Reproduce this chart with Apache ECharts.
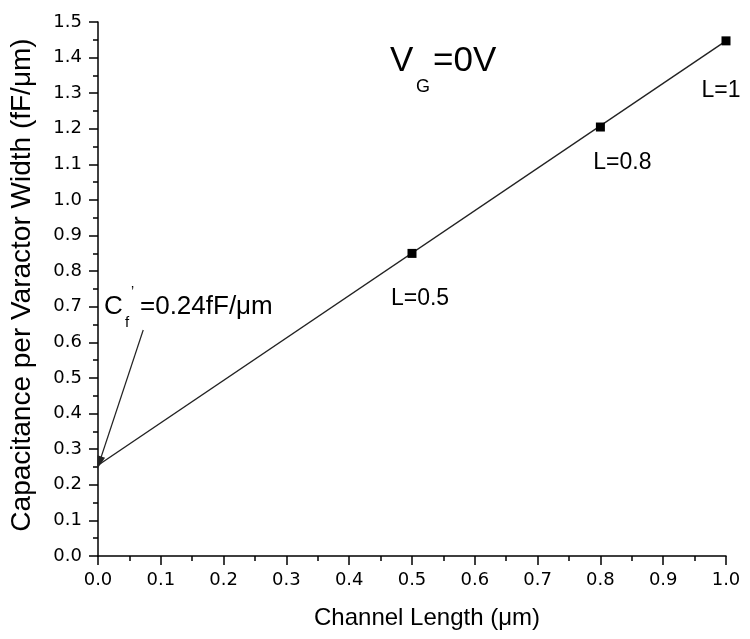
<!DOCTYPE html>
<html>
<head>
<meta charset="utf-8">
<script src="https://cdn.jsdelivr.net/npm/echarts@6/dist/echarts.min.js"></script>
<style>
html,body{margin:0;padding:0;background:#fff;}
#chart{width:750px;height:639px;}
</style>
</head>
<body>
<div id="chart"></div>
<script>
// ---- data ----
const channelLength = [0.5, 0.8, 1.0];
const capacitance = [0.85, 1.205, 1.447];
const pointLabels = ['L=0.5', 'L=0.8', 'L=1'];
const fitX = [0.0, 1.0];
const fitY = [0.255, 1.447];
const arrowFrom = [0.072, 0.635];
const arrowTo = [0.002, 0.262];
const xTitle = 'Channel Length (\u03bcm)';
const yTitle = 'Capacitance per Varactor Width (fF/\u03bcm)';

// ---- chart ----
const chart = echarts.init(document.getElementById('chart'), null, {renderer: 'canvas'});
const ink = '#000';
const tickFont = 'DejaVu Sans';
const textFont = 'Liberation Sans, Arial, sans-serif';
const labelShift = [[8, 45], [22, 36], [-5, 50]];

const scatterData = channelLength.map((x, i) => ({
  value: [x, capacitance[i]],
  label: {
    show: true,
    formatter: pointLabels[i],
    position: 'inside',
    offset: labelShift[i],
    color: '#000',
    textBorderWidth: 0,
    fontSize: 23,
    fontFamily: textFont
  }
}));

const option = {
  backgroundColor: '#fff',
  animation: false,
  grid: {left: 98, right: 24, top: 22, bottom: 83},
  xAxis: {
    type: 'value', min: 0, max: 1.0, interval: 0.1,
    name: xTitle, nameLocation: 'middle', nameGap: 50,
    nameTextStyle: {fontSize: 24, color: ink, fontFamily: textFont, padding: [0, 0, 0, 30]},
    axisLine: {show: true, onZero: false, lineStyle: {color: ink, width: 1.5}},
    axisTick: {show: true, inside: false, length: 9, lineStyle: {color: ink, width: 1.5}},
    minorTick: {show: true, splitNumber: 2, length: 5, lineStyle: {color: ink, width: 1.5}},
    axisLabel: {margin: 15, fontSize: 18, color: ink, fontFamily: tickFont, formatter: v => v.toFixed(1)},
    splitLine: {show: false}
  },
  yAxis: {
    type: 'value', min: 0, max: 1.5, interval: 0.1,
    name: yTitle, nameLocation: 'middle', nameGap: 62,
    nameTextStyle: {fontSize: 28, color: ink, fontFamily: textFont, padding: [0, 0, 0, 8]},
    axisLine: {show: true, onZero: false, lineStyle: {color: ink, width: 1.5}},
    axisTick: {show: true, inside: false, length: 9, lineStyle: {color: ink, width: 1.5}},
    minorTick: {show: true, splitNumber: 2, length: 5, lineStyle: {color: ink, width: 1.5}},
    axisLabel: {margin: 16, fontSize: 18, color: ink, fontFamily: tickFont, formatter: v => v.toFixed(1)},
    splitLine: {show: false}
  },
  series: [
    {
      type: 'line',
      data: fitX.map((x, i) => [x, fitY[i]]),
      symbol: 'none',
      lineStyle: {color: '#222', width: 1.4},
      z: 2,
      markLine: {
        silent: true,
        symbol: ['none', 'triangle'],
        symbolSize: [8, 13],
        label: {show: false},
        lineStyle: {color: '#222', width: 1.2, type: 'solid'},
        data: [[{coord: arrowFrom}, {coord: arrowTo}]]
      }
    },
    {
      type: 'scatter',
      data: scatterData,
      symbol: 'rect',
      symbolSize: 9,
      itemStyle: {color: '#000', opacity: 1},
      z: 3
    }
  ],
  graphic: [
    {type: 'text', left: 390, top: 44, style: {text: 'V', fill: ink, font: '35px Liberation Sans'}},
    {type: 'text', left: 416, top: 78, style: {text: 'G', fill: ink, font: '18px Liberation Sans'}},
    {type: 'text', left: 433, top: 44, style: {text: '=0V', fill: ink, font: '35px Liberation Sans'}},
    {type: 'text', left: 104, top: 294, style: {text: 'C', fill: ink, font: '26px Liberation Sans'}},
    {type: 'text', left: 125, top: 315, style: {text: 'f', fill: ink, font: '15px Liberation Sans'}},
    {type: 'text', left: 131, top: 285, style: {text: '\u2019', fill: ink, font: '14px Liberation Sans'}},
    {type: 'text', left: 140, top: 294, style: {text: '=0.24fF/\u03bcm', fill: ink, font: '26px Liberation Sans'}}
  ]
};
chart.setOption(option);
</script>
</body>
</html>
